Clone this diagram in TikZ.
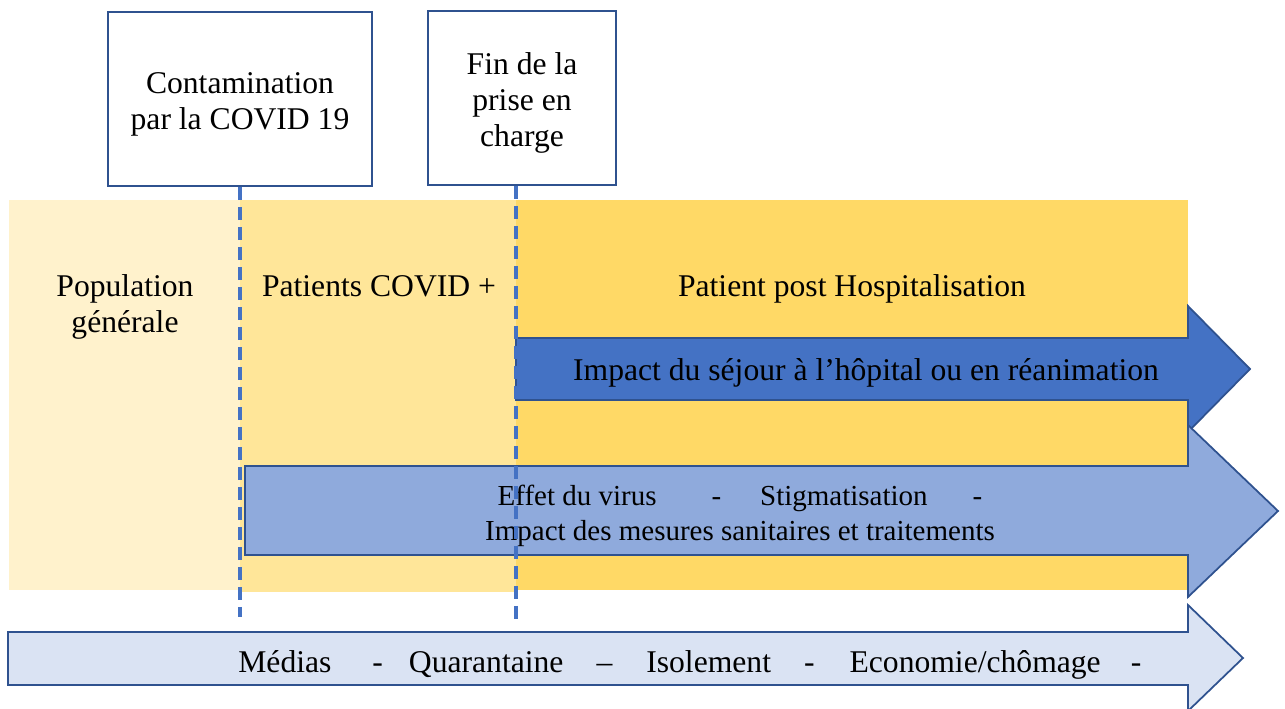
\documentclass[tikz,border=0pt]{standalone}
\usepackage{fontspec}
\setmainfont{Liberation Serif}
\usetikzlibrary{positioning}

\definecolor{bandA}{HTML}{FFF2CC}
\definecolor{bandB}{HTML}{FFE699}
\definecolor{bandC}{HTML}{FFD966}
\definecolor{arrowDark}{HTML}{4472C4}
\definecolor{arrowMid}{HTML}{8FAADC}
\definecolor{arrowLight}{HTML}{DAE3F3}
\definecolor{edgeBlue}{HTML}{2F528F}

\begin{document}
\begin{tikzpicture}[x=0.02cm,y=-0.02cm,
    lbl/.style={font=\fontsize{18}{20.6}\selectfont, inner sep=0pt, align=center},
    eventbox/.style={draw=edgeBlue, line width=1.1pt, fill=white, inner sep=0pt, minimum height=3.48cm},
    arrowshape/.style={draw=edgeBlue, line width=1pt},
    timeline/.style={arrowDark, line width=2pt, dash pattern=on 0.26cm off 0.14cm}]
    \useasboundingbox (0,0) rectangle (1285,709);
    \fill[bandA] (9,200) rectangle (240,590);
    \fill[bandB] (240,200) rectangle (516,592);
    \fill[bandC] (516,200) rectangle (1188,590);
    \draw[arrowshape, fill=arrowDark] (516,338) -- (1188,338) -- (1188,306) -- (1250,369) -- (1188,432) -- (1188,400) -- (516,400) -- cycle;
    \draw[arrowshape, fill=arrowMid] (245,466) -- (1188,466) -- (1188,425) -- (1278,511) -- (1188,597) -- (1188,555) -- (245,555) -- cycle;
    \draw[arrowshape, fill=arrowLight] (8,632) -- (1188,632) -- (1188,605) -- (1243,658) -- (1188,711) -- (1188,685) -- (8,685) -- cycle;
    \node[eventbox, minimum width=5.28cm] (contam) at (240,99) {};
    \node[eventbox, minimum width=3.76cm] (fin) at (522,98) {};
    \node[lbl] (contamText) at (240,104) {Contamination\\par la COVID 19};
    \node[lbl] (finText) at (522,103) {Fin de la\\prise en\\charge};
    \node[lbl] (popLabel) at (125,307) {Population\\générale};
    \node[lbl, anchor=base] (covidLabel) at (379,297) {Patients COVID +};
    \node[lbl, anchor=base] (postLabel) at (852,297) {Patient post Hospitalisation};
    \node[lbl, anchor=base] (sejourLabel) at (866,381) {Impact du séjour à l’hôpital ou en réanimation};
    \node[lbl, font=\fontsize{16.5}{19.9}\selectfont] (virusLabel) at (740,516) {Effet du virus\hspace{1.1cm}-\hspace{0.78cm}Stigmatisation\hspace{0.9cm}-\\Impact des mesures sanitaires et traitements};
    \node[lbl, anchor=base west] (mediaLabel) at (238,672) {Médias\hspace{0.82cm}-\hspace{0.52cm}Quarantaine\hspace{0.66cm}–\hspace{0.68cm}Isolement\hspace{0.66cm}-\hspace{0.7cm}Economie/chômage\hspace{0.6cm}-};
    \coordinate (contamEnd) at (240,617);
    \coordinate (finEnd) at (516,622);
    \draw[timeline] (contam.south -| contamEnd) -- (contamEnd);
    \draw[timeline] (fin.south -| finEnd) -- (finEnd);
\end{tikzpicture}
\end{document}
